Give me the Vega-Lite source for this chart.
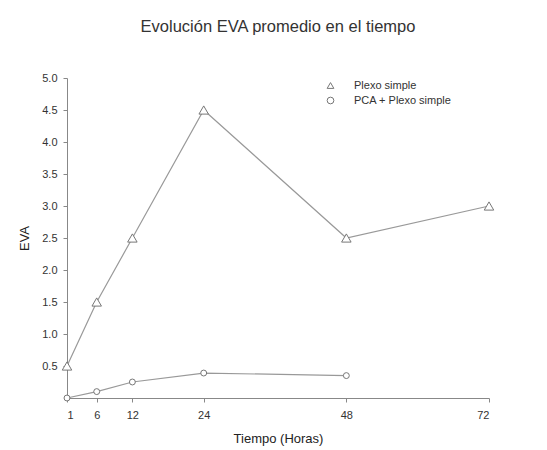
{
  "$schema": "https://vega.github.io/schema/vega-lite/v6.json",
  "width": 422,
  "height": 320,
  "autosize": {"type": "none"},
  "padding": {"left": 67, "top": 78, "right": 58, "bottom": 52},
  "background": "white",
  "title": {"text": "Evolución EVA promedio en el tiempo", "font": "Liberation Sans", "fontSize": 16.5, "fontWeight": "normal", "color": "#333333", "offset": 37},
  "config": {"view": {"stroke": null}, "font": "Liberation Sans"},
  "data": {"values": [
    {"hora": 1, "eva": 0.5, "serie": "Plexo simple"},
    {"hora": 6, "eva": 1.5, "serie": "Plexo simple"},
    {"hora": 12, "eva": 2.5, "serie": "Plexo simple"},
    {"hora": 24, "eva": 4.5, "serie": "Plexo simple"},
    {"hora": 48, "eva": 2.5, "serie": "Plexo simple"},
    {"hora": 72, "eva": 3.0, "serie": "Plexo simple"},
    {"hora": 1, "eva": 0.0, "serie": "PCA + Plexo simple"},
    {"hora": 6, "eva": 0.1, "serie": "PCA + Plexo simple"},
    {"hora": 12, "eva": 0.25, "serie": "PCA + Plexo simple"},
    {"hora": 24, "eva": 0.39, "serie": "PCA + Plexo simple"},
    {"hora": 48, "eva": 0.35, "serie": "PCA + Plexo simple"}
  ]},
  "encoding": {
    "x": {"field": "hora", "type": "quantitative", "scale": {"domain": [1, 72], "nice": false, "zero": false},
      "axis": {"values": [1, 6, 12, 24, 48, 72], "title": "Tiempo (Horas)", "grid": false, "domainColor": "#888888", "tickColor": "#888888", "tickSize": 4, "labelFontSize": 11, "labelColor": "#333333", "labelPadding": 7, "titleFontSize": 13, "titleFontWeight": "normal", "titleColor": "#222222", "titlePadding": 12}},
    "y": {"field": "eva", "type": "quantitative", "scale": {"domain": [0, 5], "nice": false},
      "axis": {"values": [0.5, 1, 1.5, 2, 2.5, 3, 3.5, 4, 4.5, 5], "format": ".1f", "title": "EVA", "grid": false, "domainColor": "#888888", "tickColor": "#888888", "tickSize": 4, "labelFontSize": 11, "labelColor": "#333333", "labelPadding": 6, "titleFontSize": 13, "titleFontWeight": "normal", "titleColor": "#222222", "titlePadding": 10}}
  },
  "layer": [
    {"mark": {"type": "line", "color": "#999999", "strokeWidth": 1.2},
      "encoding": {"detail": {"field": "serie"}}},
    {"mark": {"type": "point", "filled": false, "fill": "white", "fillOpacity": 1, "strokeWidth": 1, "opacity": 1},
      "encoding": {
        "size": {"condition": {"test": "datum.serie === 'Plexo simple'", "value": 90}, "value": 35},
        "color": {"field": "serie", "type": "nominal",
          "scale": {"domain": ["Plexo simple", "PCA + Plexo simple"], "range": ["#777777", "#777777"]},
          "legend": {"title": null, "orient": "none", "legendX": 258, "legendY": 2, "labelFontSize": 11, "labelColor": "#333333", "symbolSize": 45, "symbolStrokeWidth": 1, "labelOffset": 18, "rowPadding": 3}},
        "shape": {"field": "serie", "type": "nominal",
          "scale": {"domain": ["Plexo simple", "PCA + Plexo simple"], "range": ["triangle-up", "circle"]},
          "legend": {"title": null, "orient": "none", "legendX": 258, "legendY": 2, "labelFontSize": 11, "labelColor": "#333333", "symbolSize": 45, "symbolStrokeWidth": 1, "labelOffset": 18, "rowPadding": 3}}
      }}
  ]
}
